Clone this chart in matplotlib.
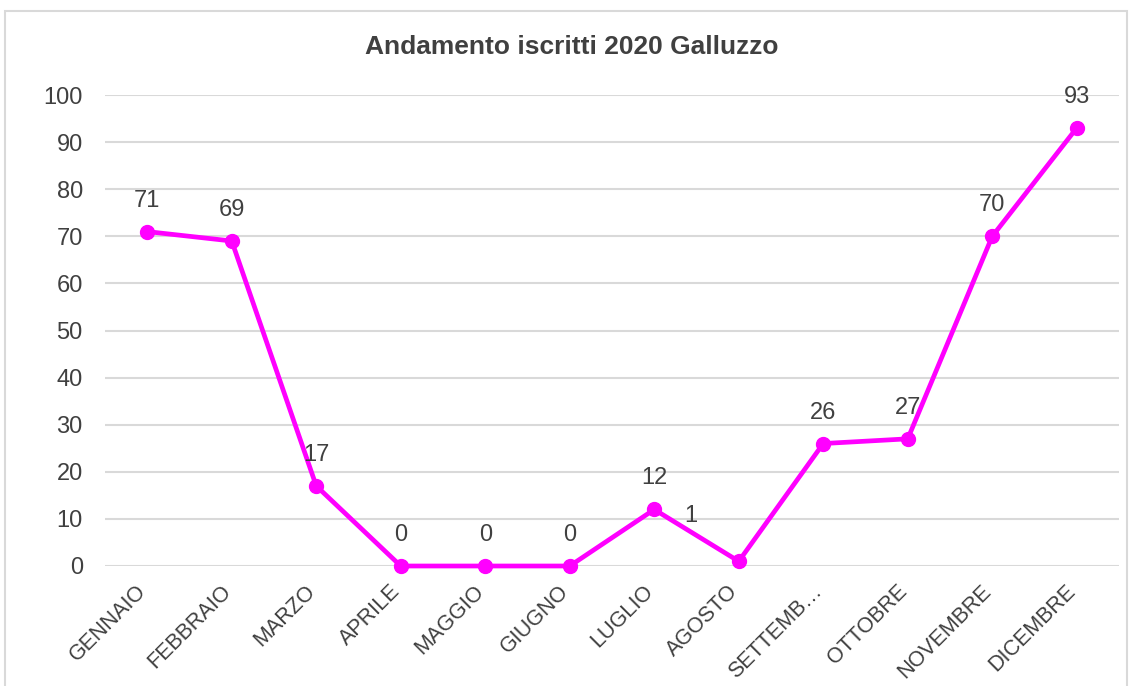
import matplotlib.pyplot as plt
import matplotlib.transforms as mtransforms
from matplotlib.patches import Rectangle

plt.rcParams['font.family'] = ['Liberation Sans', 'DejaVu Sans']

mesi = ['GENNAIO', 'FEBBRAIO', 'MARZO', 'APRILE', 'MAGGIO', 'GIUGNO',
        'LUGLIO', 'AGOSTO', 'SETTEMB…', 'OTTOBRE', 'NOVEMBRE', 'DICEMBRE']
iscritti = [71, 69, 17, 0, 0, 0, 12, 1, 26, 27, 70, 93]

fig = plt.figure(figsize=(11.32, 6.86), dpi=100)
ax = fig.add_axes([105 / 1132, 120 / 686, 1014 / 1132, 471 / 686])

# bordo grigio intorno al grafico
fig.patches.append(Rectangle((5 / 1132, -0.01), 1122 / 1132, 675 / 686 + 0.01,
                             transform=fig.transFigure, fill=False,
                             edgecolor='#d9d9d9', linewidth=1.5))

x = list(range(len(mesi)))
ax.plot(x, iscritti, color='#ff00ff', linewidth=3.4, marker='o', markersize=10,
        zorder=3, clip_on=False)

for i, v in enumerate(iscritti):
    if mesi[i] == 'AGOSTO':
        off = (-48, 45)
    else:
        off = (0, 31)
    ax.annotate(str(v), (i, v), xytext=off, textcoords='offset pixels',
                ha='center', va='center', fontsize=17, color='#404040')

ax.set_xlim(-0.5, 11.5)
ax.set_ylim(0, 100)
ax.set_yticks(range(0, 101, 10))
ax.set_xticks(x)
ax.set_xticklabels(mesi, rotation=45, ha='right', va='center', rotation_mode='anchor')
ax.tick_params(axis='both', length=0, labelcolor='#404040')
ax.tick_params(axis='y', pad=16, labelsize=17)
ax.tick_params(axis='x', pad=16, labelsize=15.5)
shift = mtransforms.ScaledTranslation(-4 / 100, 0, fig.dpi_scale_trans)
for lbl in ax.get_xticklabels():
    lbl.set_transform(lbl.get_transform() + shift)
ax.grid(axis='y', color='#d9d9d9', linewidth=1.5)
ax.set_axisbelow(True)
for s in ax.spines.values():
    s.set_visible(False)

fig.text(572 / 1132, 1 - 47 / 686, 'Andamento iscritti 2020 Galluzzo',
         ha='center', va='center', fontsize=19, fontweight='bold', color='#404040')

fig.savefig('out.png', dpi=100)
